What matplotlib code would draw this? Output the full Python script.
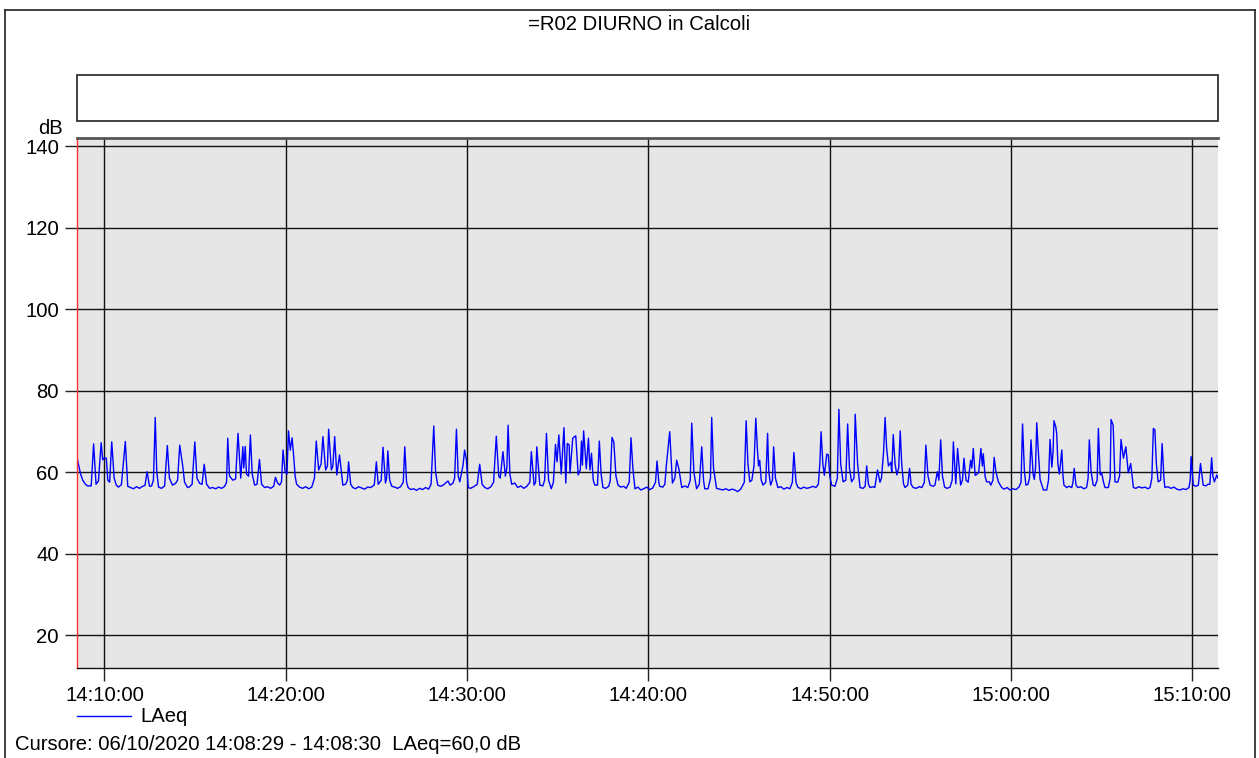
import pandas as pd
import matplotlib
matplotlib.use("Agg")
import matplotlib.pyplot as plt
import matplotlib.dates as mdates
from matplotlib.patches import Rectangle
from matplotlib.lines import Line2D

plt.rcParams['font.family'] = ['Liberation Sans', 'DejaVu Sans']

# LAeq levels (dB) sampled from the sound level meter, seconds after start
start = pd.Timestamp("2020-10-06 14:08:29")
elapsed_s = [
    0, 3, 12, 19, 28, 35, 47, 55, 63, 71, 80, 85, 91, 97, 102, 108, 115, 123, 130, 137,
    147, 160, 168, 177, 187, 197, 207, 217, 225, 232, 240, 247, 253, 259, 264, 270, 280, 290, 299, 306,
    316, 326, 333, 340, 350, 356, 366, 373, 381, 390, 397, 406, 414, 421, 429, 439, 449, 459, 469, 479,
    489, 495, 499, 505, 516, 525, 533, 542, 549, 552, 557, 561, 568, 574, 580, 588, 596, 604, 611, 621,
    631, 641, 651, 657, 664, 671, 677, 682, 689, 695, 700, 706, 712, 718, 722, 727, 737, 747, 757, 767,
    777, 786, 792, 800, 808, 814, 823, 829, 833, 842, 847, 853, 860, 869, 880, 889, 895, 899, 906, 913,
    922, 932, 942, 952, 962, 972, 984, 991, 997, 1007, 1013, 1021, 1025, 1029, 1035, 1042, 1052, 1061, 1071, 1080,
    1085, 1091, 1096, 1105, 1115, 1124, 1134, 1144, 1154, 1164, 1172, 1181, 1187, 1194, 1204, 1214, 1220, 1228, 1235, 1244,
    1250, 1256, 1262, 1267, 1278, 1283, 1289, 1295, 1303, 1313, 1325, 1333, 1341, 1350, 1360, 1370, 1379, 1388, 1396, 1401,
    1410, 1418, 1423, 1427, 1433, 1439, 1449, 1459, 1469, 1479, 1489, 1499, 1504, 1513, 1518, 1522, 1532, 1542, 1548, 1554,
    1561, 1570, 1577, 1584, 1589, 1595, 1603, 1612, 1618, 1623, 1629, 1632, 1641, 1648, 1651, 1659, 1666, 1670, 1673, 1677,
    1686, 1693, 1698, 1703, 1709, 1714, 1723, 1729, 1735, 1741, 1750, 1760, 1765, 1771, 1777, 1784, 1791, 1800, 1810, 1818,
    1828, 1834, 1840, 1847, 1857, 1866, 1876, 1886, 1896, 1906, 1915, 1920, 1926, 1929, 1939, 1946, 1951, 1962, 1971, 1979,
    1985, 1992, 2002, 2012, 2022, 2030, 2035, 2042, 2051, 2060, 2068, 2074, 2078, 2089, 2097, 2101, 2107, 2117, 2128, 2138,
    2148, 2158, 2168, 2178, 2187, 2197, 2209, 2215, 2221, 2227, 2234, 2241, 2247, 2252, 2256, 2260, 2265, 2271, 2280, 2286,
    2290, 2296, 2302, 2306, 2312, 2320, 2330, 2340, 2350, 2360, 2368, 2373, 2380, 2386, 2396, 2406, 2416, 2426, 2436, 2446,
    2454, 2459, 2463, 2469, 2474, 2482, 2487, 2492, 2498, 2509, 2517, 2522, 2528, 2536, 2545, 2551, 2557, 2564, 2572, 2576,
    2584, 2592, 2602, 2609, 2614, 2620, 2625, 2635, 2641, 2650, 2658, 2663, 2670, 2675, 2680, 2686, 2694, 2697, 2702, 2708,
    2714, 2720, 2725, 2730, 2736, 2741, 2750, 2756, 2761, 2768, 2778, 2788, 2797, 2805, 2810, 2817, 2824, 2834, 2840, 2848,
    2853, 2859, 2865, 2872, 2880, 2890, 2897, 2901, 2909, 2915, 2925, 2931, 2936, 2943, 2950, 2958, 2962, 2967, 2973, 2980,
    2985, 2992, 2997, 3000, 3006, 3011, 3020, 3025, 3032, 3036, 3042, 3050, 3061, 3069, 3079, 3088, 3098, 3108, 3118, 3125,
    3130, 3136, 3141, 3148, 3153, 3158, 3165, 3169, 3173, 3177, 3182, 3188, 3199, 3210, 3216, 3221, 3227, 3231, 3234, 3240,
    3243, 3247, 3252, 3260, 3264, 3267, 3276, 3284, 3293, 3297, 3301, 3307, 3313, 3323, 3333, 3342, 3347, 3351, 3357, 3364,
    3370, 3377, 3381, 3387, 3392, 3398, 3403, 3414, 3420, 3423, 3430, 3436, 3445, 3451, 3456, 3464, 3472, 3480, 3488, 3497,
    3505, 3515, 3525, 3535, 3545, 3552, 3558, 3563, 3568, 3573, 3579, 3587, 3592, 3598, 3601, 3611, 3621, 3631, 3641, 3651,
    3661, 3671, 3681, 3685, 3688, 3695, 3704, 3712, 3719, 3728, 3737, 3744, 3750, 3756, 3760, 3765, 3773, 3777,
]
laeq = [
    63.8, 62.5, 59.5, 58.0, 57.0, 56.6, 56.6, 66.9, 57.0, 57.8, 67.2, 63.0, 63.5, 63.4, 58.0, 57.5, 67.4, 58.5, 56.8, 56.3,
    56.9, 67.5, 56.5, 56.2, 55.9, 56.4, 56.0, 56.5, 56.7, 60.1, 56.5, 56.6, 58.0, 73.4, 60.0, 56.3, 56.0, 56.6, 66.5, 58.5,
    56.8, 57.2, 58.0, 66.6, 61.5, 57.5, 56.2, 56.4, 57.0, 67.4, 58.5, 57.2, 57.0, 61.9, 57.0, 56.0, 56.2, 55.9, 56.3, 56.0,
    56.5, 57.5, 68.3, 59.0, 58.0, 58.3, 69.5, 58.5, 66.2, 61.0, 66.3, 59.5, 59.0, 69.1, 59.5, 56.8, 57.0, 63.1, 57.0, 56.2,
    56.4, 56.0, 56.5, 58.7, 57.3, 56.8, 57.6, 65.4, 60.0, 59.5, 70.1, 65.4, 68.4, 63.2, 59.0, 57.0, 56.3, 56.0, 56.4, 55.9,
    56.3, 58.5, 67.6, 60.5, 62.0, 68.7, 60.5, 61.5, 70.5, 60.5, 61.5, 68.7, 59.3, 64.2, 56.8, 57.0, 58.0, 62.5, 57.0, 56.2,
    55.9, 56.4, 56.1, 55.8, 56.3, 56.2, 56.8, 62.5, 57.0, 58.0, 66.1, 57.3, 58.5, 65.2, 58.0, 56.5, 56.3, 56.0, 56.4, 57.5,
    66.2, 57.5, 56.2, 55.7, 55.9, 55.5, 56.0, 55.7, 56.2, 55.8, 57.0, 71.3, 60.0, 56.8, 56.5, 56.9, 57.3, 57.8, 56.8, 57.2,
    58.5, 70.5, 59.0, 57.6, 61.7, 65.4, 63.0, 56.2, 56.0, 56.4, 57.0, 61.9, 57.0, 56.2, 55.9, 56.4, 57.5, 68.8, 59.0, 58.5,
    65.0, 59.0, 61.0, 71.5, 59.5, 57.0, 57.3, 56.2, 56.6, 56.0, 56.5, 57.5, 65.0, 56.8, 57.5, 66.2, 56.8, 56.6, 58.0, 69.5,
    58.0, 55.9, 57.5, 66.8, 62.5, 69.1, 59.5, 70.9, 57.3, 67.0, 66.7, 59.7, 68.3, 68.7, 68.9, 59.3, 60.5, 67.6, 61.7, 70.1,
    60.8, 68.3, 60.5, 64.6, 58.0, 56.8, 56.8, 67.6, 59.5, 56.2, 56.0, 56.5, 57.8, 68.5, 67.4, 59.0, 56.8, 56.3, 56.5, 56.0,
    57.5, 68.4, 61.0, 55.9, 56.3, 55.6, 55.9, 56.3, 55.7, 56.1, 57.5, 62.7, 57.5, 56.5, 56.3, 57.0, 61.7, 69.9, 57.3, 58.5,
    62.9, 60.9, 56.2, 56.6, 56.2, 58.0, 72.0, 60.0, 55.9, 57.0, 66.2, 58.0, 55.9, 55.9, 58.5, 73.4, 61.0, 56.0, 55.8, 55.6,
    55.9, 55.5, 55.8, 55.6, 55.2, 55.8, 57.5, 72.6, 62.0, 57.6, 58.0, 61.5, 73.2, 66.0, 61.5, 62.9, 58.0, 56.8, 57.5, 69.5,
    60.0, 56.8, 58.0, 66.2, 58.5, 56.2, 56.4, 55.8, 56.2, 55.9, 57.5, 64.8, 57.5, 56.3, 55.9, 56.3, 56.0, 56.2, 56.5, 56.2,
    57.0, 62.0, 69.9, 62.0, 59.2, 64.4, 64.2, 59.0, 56.8, 56.5, 58.5, 75.4, 62.0, 57.6, 58.0, 71.8, 61.0, 57.6, 58.5, 74.2,
    62.0, 56.2, 56.0, 56.5, 61.5, 57.0, 56.2, 56.4, 56.2, 60.5, 57.5, 58.5, 65.0, 73.4, 66.0, 61.5, 62.4, 60.0, 69.2, 62.0,
    59.3, 61.0, 70.1, 62.0, 57.1, 56.2, 56.8, 60.9, 57.0, 56.2, 56.0, 56.4, 56.2, 57.5, 66.6, 59.0, 56.8, 56.5, 56.8, 60.1,
    58.0, 67.9, 59.0, 56.3, 56.0, 56.3, 58.0, 67.4, 57.1, 65.8, 56.8, 58.0, 63.4, 58.0, 57.5, 62.9, 61.0, 65.8, 59.2, 59.5,
    60.0, 65.8, 61.5, 64.5, 59.0, 57.6, 57.6, 56.8, 58.0, 63.6, 60.0, 57.6, 56.2, 55.8, 56.2, 55.6, 55.9, 55.7, 56.3, 57.5,
    71.8, 60.5, 56.8, 57.0, 58.5, 67.9, 59.5, 58.2, 61.0, 72.1, 65.4, 58.2, 55.6, 55.6, 58.0, 68.0, 61.2, 65.0, 72.6, 71.1,
    69.5, 62.0, 59.5, 65.4, 59.0, 56.8, 56.2, 56.5, 56.2, 57.5, 60.9, 56.8, 56.2, 56.4, 55.9, 56.2, 58.5, 67.9, 60.0, 56.8,
    56.6, 58.0, 70.7, 59.3, 59.8, 57.5, 56.2, 56.2, 58.5, 72.9, 71.5, 57.6, 57.5, 59.0, 68.0, 63.4, 66.2, 59.8, 62.1, 56.2,
    56.0, 56.4, 56.1, 56.3, 55.9, 56.2, 58.5, 70.7, 70.4, 62.0, 57.6, 58.0, 67.0, 58.5, 56.2, 56.4, 56.0, 56.3, 55.8, 55.6,
    55.9, 55.7, 56.2, 58.0, 63.8, 56.8, 56.5, 56.8, 62.1, 56.8, 56.6, 57.0, 57.0, 63.5, 59.0, 57.6, 59.3, 58.5,
]

y_ticks = [20, 40, 60, 80, 100, 120, 140]
title = "=R02 DIURNO in Calcoli"
cursor_text = "Cursore: 06/10/2020 14:08:29 - 14:08:30  LAeq=60,0 dB"

times = start + pd.to_timedelta(elapsed_s, unit="s")

W, H = 1259, 758
fs = 14.6
fig = plt.figure(figsize=(W / 100, H / 100), dpi=100)


def fx(px):
    return px / W


def fy(py):
    return 1 - py / H


# outer frame
fig.add_artist(Line2D([fx(5), fx(1255)], [fy(10), fy(10)], color="#222222", lw=1.2))
fig.add_artist(Line2D([fx(5), fx(5)], [fy(10), fy(758)], color="#222222", lw=1.2))
fig.add_artist(Line2D([fx(1255), fx(1255)], [fy(10), fy(758)], color="#222222", lw=1.2))

fig.text(fx(639), fy(25), title, ha="center", va="center", fontsize=fs)

# empty header box above the plot
fig.add_artist(Rectangle((fx(77), fy(121)), fx(1218 - 77), 46 / H,
                         facecolor="white", edgecolor="#333333", lw=1.3))

ax = fig.add_axes([fx(77), fy(668), fx(1218 - 77), (668 - 138) / H])
ax.set_facecolor("#e6e6e6")
ax.plot(times, laeq, color="#0000ff", lw=1.0)

ax.set_xlim(times[0], times[-1])
ax.set_ylim(11.9, 142)
ax.set_yticks(y_ticks)
ax.xaxis.set_major_locator(mdates.MinuteLocator(byminute=range(0, 60, 10)))
ax.xaxis.set_major_formatter(mdates.DateFormatter("%H:%M:%S"))
ax.grid(True, color="#111111", lw=1.0)
ax.tick_params(axis="both", labelsize=fs, length=9, width=1, color="#222222", pad=4)

ax.spines["left"].set_color("#ff3030")
ax.spines["left"].set_linewidth(1)
ax.spines["right"].set_visible(False)
ax.spines["top"].set_color("#555555")
ax.spines["top"].set_linewidth(2)
ax.spines["bottom"].set_color("#111111")
ax.spines["bottom"].set_linewidth(1)

fig.text(fx(63), fy(129), "dB", ha="right", va="center", fontsize=fs)

# legend entry
fig.add_artist(Line2D([fx(77), fx(131)], [fy(716), fy(716)], color="#0000ff", lw=1))
fig.text(fx(140), fy(717), "LAeq", ha="left", va="center", fontsize=fs)

fig.text(fx(15), fy(745), cursor_text, ha="left", va="center", fontsize=fs)

fig.savefig("out.png", dpi=100)
